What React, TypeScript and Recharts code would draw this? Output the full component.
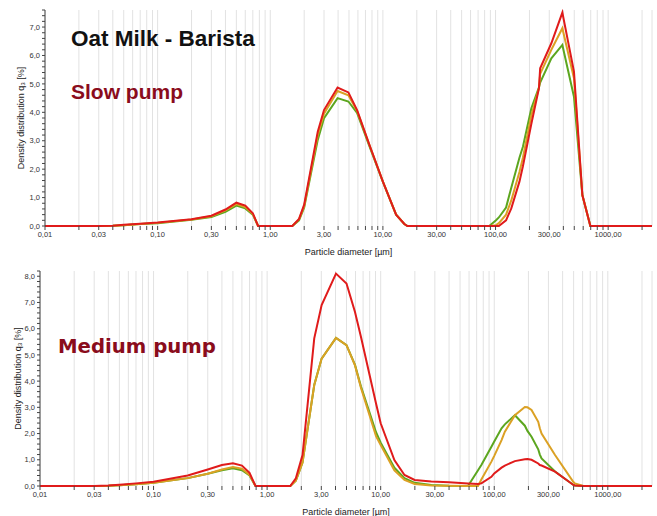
import React from 'react';
import {
  LineChart,
  Line,
  XAxis,
  YAxis,
  CartesianGrid,
} from 'recharts';

// Line colours
const RED = '#e01b1b';
const ORANGE = '#dba124';
const GREEN = '#5ca61f';
const TITLE_RED = '#8a0c1c';

// Axis labels shown on the x axis
const MAJOR_TICKS = [0.01, 0.03, 0.1, 0.3, 1, 3, 10, 30, 100, 300, 1000];
const X_MAX = 2450;

// Slow pump (top panel)
const slowDiameter = [
  0.01, 0.03, 0.04, 0.05, 0.07, 0.1, 0.2, 0.3, 0.4, 0.5, 0.6, 0.7, 0.78, 1.0,
  1.57, 1.8, 2.0, 2.3, 2.64, 3.0, 3.96, 4.94, 5.9, 7.6, 10, 13.1, 15.5, 16.5,
  30, 88, 101, 107, 124, 138, 163, 175, 208, 243, 249, 313, 392, 497, 590, 695,
  1000, 2450,
];
const slowRun1 = [
  0, 0, 0.01, 0.03, 0.07, 0.1, 0.22, 0.32, 0.5, 0.72, 0.62, 0.4, 0, 0,
  0, 0.2, 0.65, 1.85, 3.03, 3.79, 4.5, 4.38, 3.98, 2.8, 1.55, 0.4, 0.07, 0,
  0, 0, 0.2, 0.3, 0.65, 1.35, 2.4, 2.79, 4.14, 4.88, 5.05, 5.9, 6.37, 4.55, 1.09, 0,
  0, 0,
];
const slowRun2 = [
  0, 0, 0.01, 0.03, 0.07, 0.11, 0.23, 0.34, 0.55, 0.77, 0.67, 0.42, 0, 0,
  0, 0.23, 0.7, 1.95, 3.2, 3.95, 4.75, 4.6, 4.05, 2.85, 1.56, 0.4, 0.07, 0,
  0, 0, 0.03, 0.1, 0.4, 0.9, 1.9, 2.4, 3.9, 4.85, 5.35, 6.2, 6.96, 5.2, 1.09, 0,
  0, 0,
];
const slowRun3 = [
  0, 0, 0.01, 0.04, 0.08, 0.12, 0.24, 0.36, 0.58, 0.82, 0.72, 0.45, 0, 0,
  0, 0.25, 0.75, 2.04, 3.32, 4.08, 4.87, 4.7, 4.08, 2.85, 1.56, 0.4, 0.07, 0,
  0, 0, 0, 0, 0.2, 0.62, 1.56, 2.1, 3.6, 4.85, 5.55, 6.43, 7.51, 5.43, 1.09, 0,
  0, 0,
];

// Medium pump (bottom panel)
const mediumDiameter = [
  0.01, 0.03, 0.04, 0.05, 0.07, 0.1, 0.2, 0.3, 0.4, 0.5, 0.6, 0.7, 0.79, 1.0,
  1.6, 1.79, 2.05, 2.6, 3.02, 4.04, 5.0, 5.94, 6.7, 9.1, 10, 13.2, 16.2, 19.9,
  27.9, 40, 58.7, 72, 77, 94.4, 100, 116, 124, 152, 186, 196, 213, 244, 252,
  261, 343, 498, 513, 610, 1000, 2450,
];
const mediumRun1 = [
  0, 0, 0.01, 0.03, 0.07, 0.12, 0.3, 0.47, 0.6, 0.68, 0.6, 0.4, 0, 0,
  0, 0.2, 0.9, 3.85, 4.86, 5.65, 5.37, 4.62, 3.8, 2.05, 1.65, 0.7, 0.3, 0.12,
  0.04, 0.01, 0, 0.6, 0.8, 1.5, 1.7, 2.2, 2.35, 2.7, 2.3, 2.1, 1.88, 1.4, 1.2,
  1.05, 0.55, 0.04, 0.02, 0, 0, 0,
];
const mediumRun2 = [
  0, 0, 0.01, 0.03, 0.07, 0.12, 0.3, 0.47, 0.63, 0.72, 0.66, 0.42, 0, 0,
  0, 0.2, 0.9, 3.85, 4.86, 5.65, 5.37, 4.6, 3.75, 1.9, 1.56, 0.6, 0.23, 0.08,
  0.02, 0.01, 0, 0, 0.25, 0.93, 1.15, 1.75, 2.07, 2.7, 3.01, 3.0, 2.9, 2.45, 2.2,
  2.0, 1.18, 0.15, 0.1, 0, 0, 0,
];
const mediumRun3 = [
  0, 0, 0.02, 0.05, 0.1, 0.16, 0.4, 0.63, 0.8, 0.87, 0.78, 0.5, 0, 0,
  0, 0.29, 1.18, 5.63, 6.9, 8.1, 7.72, 6.64, 5.69, 3.15, 2.39, 0.99, 0.42, 0.23,
  0.17, 0.14, 0.1, 0.08, 0.1, 0.35, 0.48, 0.7, 0.78, 0.95, 1.02, 1.03, 1.0, 0.86, 0.8,
  0.78, 0.55, 0.04, 0.02, 0, 0, 0,
];

const buildRows = (d: number[], a: number[], b: number[], c: number[]) =>
  d.map((x, i) => ({ x, run1: a[i], run2: b[i], run3: c[i] }));

const slowData = buildRows(slowDiameter, slowRun1, slowRun2, slowRun3);
const mediumData = buildRows(mediumDiameter, mediumRun1, mediumRun2, mediumRun3);

// every 1..9 multiple of each decade gets a grid line and a tick mark
const xTicks: number[] = [];
[-2, -1, 0, 1, 2, 3].forEach((e) => {
  for (let m = 1; m <= 9; m++) {
    const v = Number((m * Math.pow(10, e)).toPrecision(3));
    if (v <= X_MAX) xTicks.push(v);
  }
});

const yTicks = (max: number) =>
  Array.from({ length: Math.floor(max / 0.2 + 1e-6) + 1 }, (_, i) =>
    Number((i * 0.2).toFixed(1))
  );

const fmtX = (v: number) =>
  MAJOR_TICKS.includes(v) ? v.toFixed(2).replace('.', ',') : '';
const fmtY = (v: number) =>
  Math.abs(v - Math.round(v)) < 1e-6 ? v.toFixed(1).replace('.', ',') : '';

const tickStyle = { fontSize: 7.5, fill: '#333', fontFamily: 'Liberation Sans, Arial, sans-serif' };
const labelStyle = { fontSize: 9, fill: '#222', fontFamily: 'Liberation Sans, Arial, sans-serif' };

interface PanelProps {
  data: any[];
  yMax: number;
  yAxisWidth: number;
  top: number;
  xAxisHeight: number;
  labelOffset: number;
}

const Panel: React.FC<PanelProps> = ({ data, yMax, yAxisWidth, top, xAxisHeight, labelOffset }) => (
  <LineChart
    width={657}
    height={258}
    data={data}
    margin={{ top, right: 5, left: 0, bottom: 0 }}
  >
    <CartesianGrid horizontal={false} stroke="#e2e2e2" strokeWidth={1} />
    <XAxis
      dataKey="x"
      type="number"
      scale="log"
      domain={[0.01, X_MAX]}
      ticks={xTicks}
      interval={0}
      tickFormatter={fmtX}
      tick={tickStyle}
      tickSize={4}
      height={xAxisHeight}
      axisLine={false}
      tickLine={{ stroke: '#444' }}
      label={{ value: 'Particle diameter [µm]', position: 'insideBottom', offset: labelOffset, style: labelStyle }}
    />
    <YAxis
      type="number"
      domain={[0, yMax]}
      ticks={yTicks(yMax)}
      interval={0}
      tickFormatter={fmtY}
      tick={tickStyle}
      tickSize={3}
      width={yAxisWidth}
      stroke="#444"
      label={{ value: 'Density distribution q₃ [%]', angle: -90, position: 'center', dx: -2, style: labelStyle }}
    />
    <Line type="linear" dataKey="run1" stroke={GREEN} strokeWidth={2} dot={false} isAnimationActive={false} />
    <Line type="linear" dataKey="run2" stroke={ORANGE} strokeWidth={2} dot={false} isAnimationActive={false} />
    <Line type="linear" dataKey="run3" stroke={RED} strokeWidth={2} dot={false} isAnimationActive={false} />
  </LineChart>
);

export default function App() {
  return (
    <div style={{ position: 'absolute', left: 0, top: 0, width: 657, height: 516, background: '#fff' }}>
      <div style={{ position: 'absolute', left: 0, top: 0 }}>
        <Panel data={slowData} yMax={7.6} yAxisWidth={45} top={10} xAxisHeight={32} labelOffset={3} />
      </div>
      <div style={{ position: 'absolute', left: 0, top: 258 }}>
        <Panel data={mediumData} yMax={8.2} yAxisWidth={40} top={13} xAxisHeight={30} labelOffset={1} />
      </div>
      <div
        style={{
          position: 'absolute', left: 71, top: 28, fontFamily: 'Liberation Sans, Arial, sans-serif',
          fontWeight: 'bold', fontSize: 22.5, lineHeight: 1, color: '#111', whiteSpace: 'nowrap',
        }}
      >
        Oat Milk - Barista
      </div>
      <div
        style={{
          position: 'absolute', left: 71, top: 81, fontFamily: 'Liberation Sans, Arial, sans-serif',
          fontWeight: 'bold', fontSize: 21, lineHeight: 1, color: TITLE_RED, whiteSpace: 'nowrap',
        }}
      >
        Slow pump
      </div>
      <div
        style={{
          position: 'absolute', left: 58, top: 337, fontFamily: 'DejaVu Sans, sans-serif',
          fontWeight: 'bold', fontSize: 19.7, lineHeight: 1, color: TITLE_RED, whiteSpace: 'nowrap',
        }}
      >
        Medium pump
      </div>
    </div>
  );
}
